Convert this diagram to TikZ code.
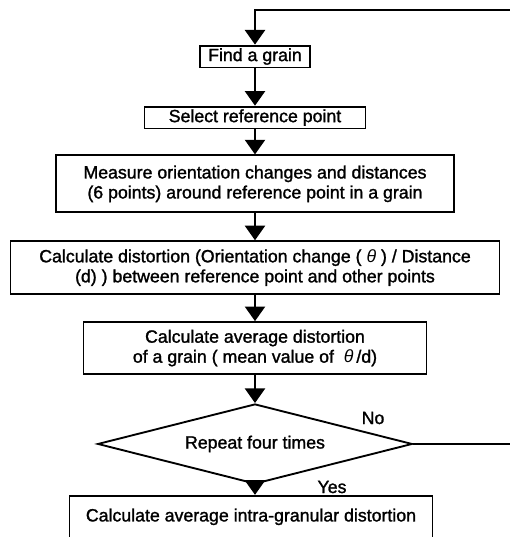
\documentclass[tikz,border=0pt]{standalone}
\usepackage{fontspec}
\setmainfont{Liberation Sans}[BoldFont={Liberation Sans}, BoldFeatures={FakeBold=1.4}]
\usetikzlibrary{shapes.geometric,arrows.meta,positioning}

\begin{document}
\begin{tikzpicture}[x=0.75pt, y=-0.75pt, line width=1.4pt,
    >={Triangle[length=11pt,width=15pt]},
    font=\fontsize{13.3}{15}\selectfont\bfseries]
    % Styles
    \tikzstyle{box} = [rectangle, draw, fill=white, align=center, inner sep=2pt]
    \tikzstyle{decision} = [diamond, draw, fill=white, aspect=3.93, minimum width=236pt, minimum height=60pt, inner sep=0pt]
    \tikzstyle{line} = [draw, ->, line width=1.9pt]

    \useasboundingbox (0,0) rectangle (510,537);

    % Nodes
    \node [box, minimum width=82.5pt, minimum height=14.25pt] (find) at (255,56.5) {Find a grain};
    \node [box, minimum width=165.75pt, minimum height=14.25pt, below=28pt of find] (select) {Select reference point};
    \node [box, minimum width=298.5pt, minimum height=42.75pt, below=18.75pt of select] (measure) {Measure orientation changes and distances\\(6 points) around reference point in a grain};
    \node [box, minimum width=366.75pt, minimum height=39.75pt, below=20.25pt of measure] (distort) {Calculate distortion (Orientation change ( \textit{θ} ) / Distance\\(d) ) between reference point and other points};
    \node [box, minimum width=257.25pt, minimum height=39pt, below=19.5pt of distort] (average) {Calculate average distortion\\of a grain ( mean value of \ \textit{θ}\,/d)};
    \node [decision, below=21pt of average] (repeat) {Repeat four times};
    \node [box, minimum width=272.25pt, minimum height=31.5pt, below=7.5pt of repeat, xshift=-3pt] (intra) {Calculate average intra-granular distortion};
    \coordinate (loop) at (530,10);

    % Edges
    \path [line] (find) -- (select);
    \path [line] (select) -- (measure);
    \path [line] (measure) -- (distort);
    \path [line] (distort) -- (average);
    \path [line] (average) -- (repeat);
    \path [line] (repeat.south) -- (repeat.south |- intra.north);

    % Loop back
    \draw (repeat.east) -| (loop);
    \draw [line] (loop) -| (find.north);

    % Labels
    \node at (373,418) {No};
    \node at (332,487) {Yes};

\end{tikzpicture}
\end{document}
